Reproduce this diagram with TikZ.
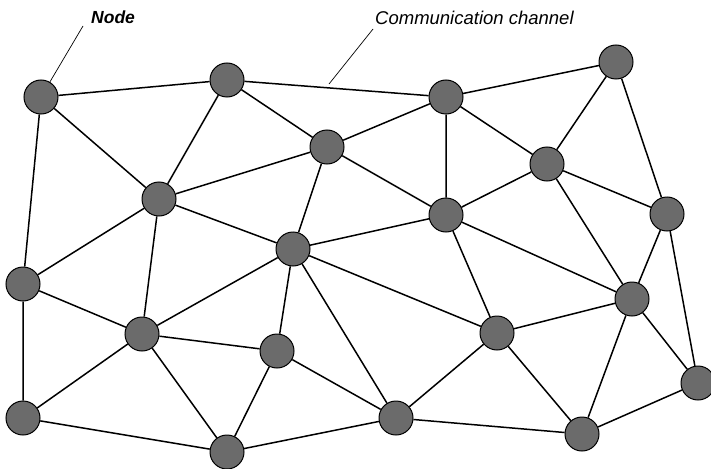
\documentclass[tikz,border=0pt]{standalone}
\usepackage{fontspec}
\setmainfont{Liberation Sans}
\usetikzlibrary{positioning}

\begin{document}
\begin{tikzpicture}[x=1pt, y=-1pt,
	stn/.style={draw, circle, fill=black!58, minimum size=34pt, inner sep=0pt, line width=1pt},
	link/.style={line width=1.5pt},
	lead/.style={line width=0.7pt}]
	\useasboundingbox (0,0) rectangle (711,468);
	% stations
	\node[stn] (a) at (41,97) {};
	\node[stn] (b) at (227,80) {};
	\node[stn] (c) at (446,97) {};
	\node[stn] (d) at (616,62) {};
	\node[stn] (e) at (327,147) {};
	\node[stn] (f) at (547,164) {};
	\node[stn] (g) at (159,199) {};
	\node[stn] (h) at (446,215) {};
	\node[stn] (i) at (667,214) {};
	\node[stn] (j) at (293,249) {};
	\node[stn] (k) at (23,284) {};
	\node[stn] (l) at (632,299) {};
	\node[stn] (m) at (142,334) {};
	\node[stn] (n) at (497,333) {};
	\node[stn] (o) at (277,351) {};
	\node[stn] (p) at (698,383) {};
	\node[stn] (q) at (23,418) {};
	\node[stn] (r) at (396,418) {};
	\node[stn] (s) at (227,452) {};
	\node[stn] (t) at (582,434) {};
	% channels
	\draw[link] (a) -- (b) (a) -- (g) (a) -- (k)
		(b) -- (c) (b) -- (e) (b) -- (g)
		(c) -- (d) (c) -- (e) (c) -- (f) (c) -- (h)
		(d) -- (f) (d) -- (i)
		(e) -- (g) (e) -- (h) (e) -- (j)
		(f) -- (h) (f) -- (i) (f) -- (l)
		(g) -- (j) (g) -- (k) (g) -- (m)
		(h) -- (j) (h) -- (l) (h) -- (n)
		(i) -- (l) (i) -- (p)
		(j) -- (m) (j) -- (n) (j) -- (o) (j) -- (r)
		(k) -- (m) (k) -- (q)
		(l) -- (n) (l) -- (p) (l) -- (t)
		(m) -- (o) (m) -- (q) (m) -- (s)
		(n) -- (r) (n) -- (t)
		(o) -- (r) (o) -- (s)
		(p) -- (t) (q) -- (s) (r) -- (s) (r) -- (t);
	% labels
	\coordinate (nodetip) at (83,26);
	\node[anchor=west, font=\bfseries\itshape\fontsize{17.5}{20}\selectfont, inner sep=0pt] (nodelbl) at (91,17) {Node};
	\draw[lead] (nodetip) -- (a);
	\coordinate (chtip) at (373,29);
	\coordinate (chend) at (329,84);
	\node[anchor=west, font=\itshape\fontsize{18.5}{21}\selectfont, inner sep=0pt] (chlbl) at (375,18) {Communication channel};
	\draw[lead] (chtip) -- (chend);
\end{tikzpicture}
\end{document}
